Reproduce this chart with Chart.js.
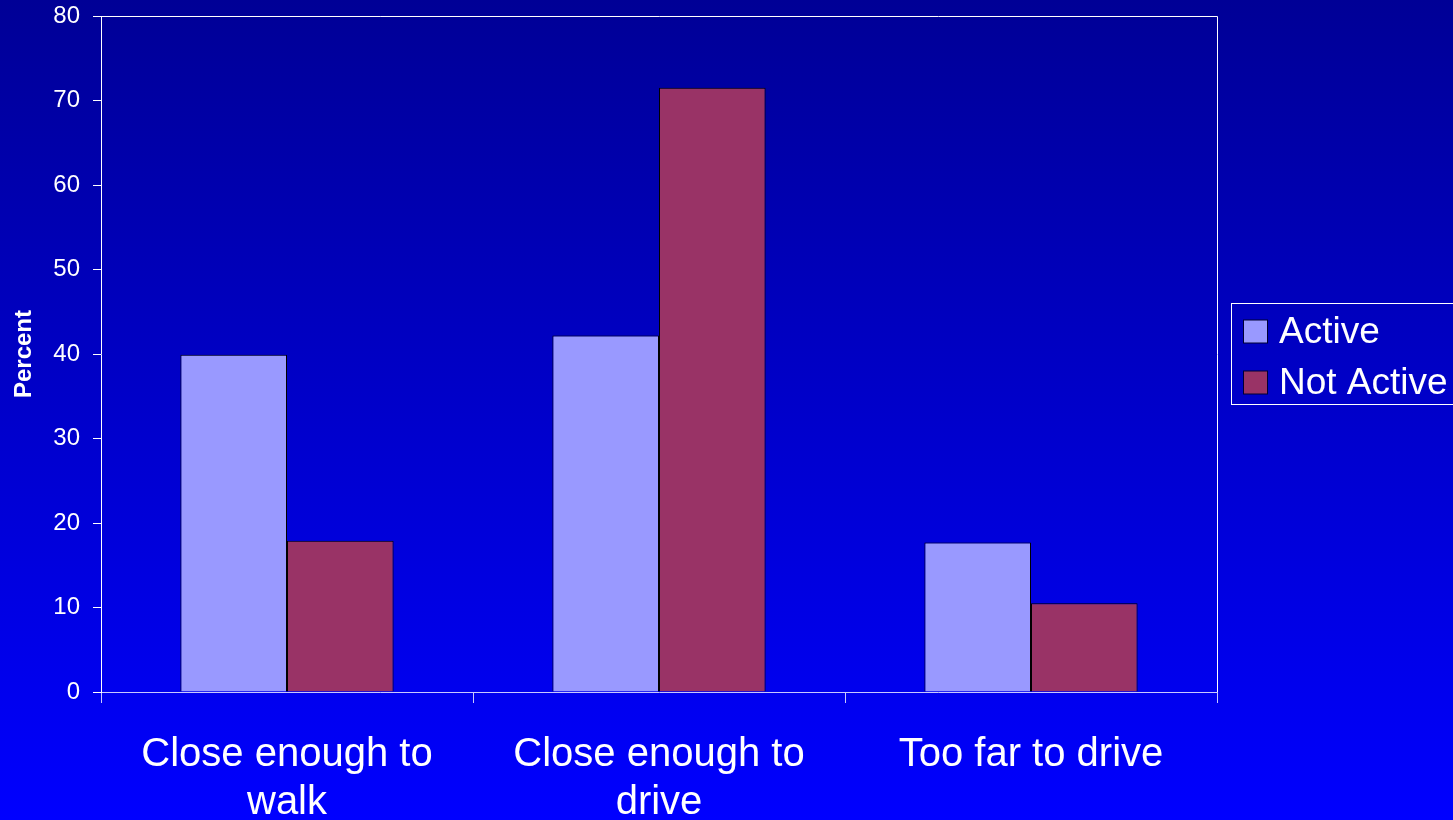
<!DOCTYPE html>
<html>
<head>
<meta charset="utf-8">
<script src="https://cdn.jsdelivr.net/npm/chart.js@4.4.1/dist/chart.umd.min.js"></script>
<style>
  html, body { margin:0; padding:0; }
  body { width:1453px; height:820px; overflow:hidden; background: linear-gradient(#000096, #0000ff); }
  #wrap { position:relative; width:1453px; height:820px; }
</style>
</head>
<body>
<div id="wrap"><canvas id="c" width="1453" height="820"></canvas></div>
<script>
  var categories = [['Close enough to', 'walk'], ['Close enough to', 'drive'], 'Too far to drive'];
  var activeValues = [39.9, 42.2, 17.7];
  var notActiveValues = [17.9, 71.5, 10.5];
  var seriesNames = ['Active', 'Not Active'];
  var seriesColors = ['#9999ff', '#993366'];
  var yTicks = [0, 10, 20, 30, 40, 50, 60, 70, 80];

  var FONT = '"Liberation Sans", Arial, Helvetica, sans-serif';

  // white frame round the plot area (top and right edges)
  var framePlugin = {
    id: 'frame',
    beforeDatasetsDraw: function(chart){
      var a = chart.chartArea, ctx = chart.ctx;
      ctx.save();
      ctx.strokeStyle = '#ffffff';
      ctx.lineWidth = 1;
      ctx.beginPath();
      ctx.moveTo(a.left, a.top + 0.5);
      ctx.lineTo(a.right + 0.5, a.top + 0.5);
      ctx.lineTo(a.right + 0.5, a.bottom);
      ctx.stroke();
      ctx.restore();
    }
  };

  // boxed legend on the right side
  var legendPlugin = {
    id: 'boxLegend',
    afterDraw: function(chart){
      var ctx = chart.ctx;
      var x0 = 1231.5, y0 = 303.5, w = 240, h = 101;
      ctx.save();
      ctx.strokeStyle = '#ffffff';
      ctx.lineWidth = 1;
      ctx.strokeRect(x0, y0, w, h);
      ctx.font = '37px ' + FONT;
      ctx.textBaseline = 'middle';
      chart.data.datasets.forEach(function(ds, i){
        var cy = 331.5 + i * 51;
        ctx.fillStyle = ds.backgroundColor;
        ctx.fillRect(1243.5, cy - 11.5, 24, 23);
        ctx.strokeStyle = '#000033';
        ctx.strokeRect(1243.5, cy - 11.5, 24, 23);
        ctx.fillStyle = '#ffffff';
        ctx.fillText(ds.label, 1279, cy + 1);
      });
      ctx.restore();
    }
  };

  new Chart(document.getElementById('c').getContext('2d'), {
    type: 'bar',
    data: {
      labels: categories,
      datasets: [
        { label: seriesNames[0], data: activeValues, backgroundColor: seriesColors[0], borderColor: '#000000', borderWidth: 1, borderSkipped: 'bottom' },
        { label: seriesNames[1], data: notActiveValues, backgroundColor: seriesColors[1], borderColor: '#000000', borderWidth: 1, borderSkipped: 'bottom' }
      ]
    },
    options: {
      responsive: false,
      animation: false,
      devicePixelRatio: 1,
      layout: { padding: { left: 0, right: 236, top: 16, bottom: 0 } },
      datasets: { bar: { categoryPercentage: 0.573, barPercentage: 1.0 } },
      plugins: { legend: { display: false }, tooltip: { enabled: false } },
      scales: {
        x: {
          offset: true,
          grid: { offset: true, drawOnChartArea: false, drawTicks: true, tickLength: 11, color: '#c8c8ff' },
          border: { color: '#c8c8ff', width: 1 },
          ticks: { color: '#ffffff', font: { family: FONT, size: 40 }, padding: 28, maxRotation: 0, autoSkip: false },
          afterFit: function(s){ s.height = 128; s.paddingLeft = 0; s.paddingRight = 0; }
        },
        y: {
          min: 0, max: 80,
          afterBuildTicks: function(s){ s.ticks = yTicks.map(function(v){ return { value: v }; }); },
          grid: { drawOnChartArea: false, drawTicks: true, tickLength: 8, color: '#ffffff' },
          border: { color: '#ffffff', width: 1 },
          ticks: { color: '#ffffff', font: { family: FONT, size: 24 }, padding: 13 },
          title: { display: true, text: 'Percent', color: '#ffffff', font: { family: FONT, size: 24, weight: 'bold' }, padding: { top: 10, bottom: 0 } },
          afterFit: function(s){ s.width = 101; s.paddingTop = 0; s.paddingBottom = 0; }
        }
      }
    },
    plugins: [framePlugin, legendPlugin]
  });
</script>
</body>
</html>
